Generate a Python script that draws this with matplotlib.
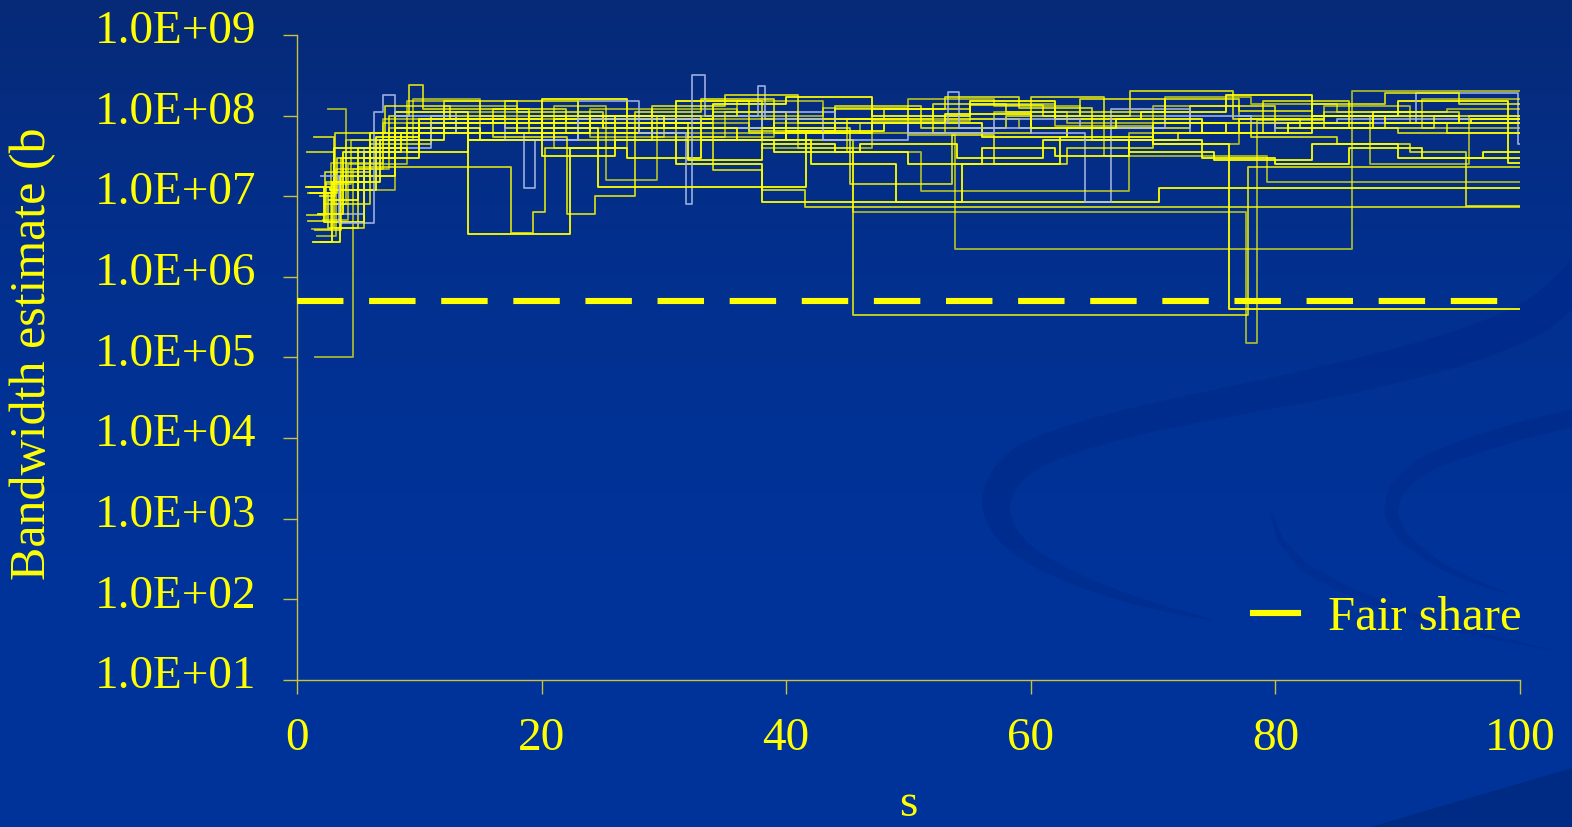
import numpy as np
import matplotlib
matplotlib.use('Agg')
import matplotlib.pyplot as plt
from matplotlib.colors import LinearSegmentedColormap
from matplotlib.ticker import FuncFormatter, NullLocator
from matplotlib.transforms import ScaledTranslation

plt.rcParams['font.family'] = ['Liberation Serif', 'DejaVu Serif']

# step series: change times (s) and the level held after each change (b/s)
f01_t = [1.5, 4.6, 7.5, 12, 18, 24, 29, 35, 41, 47, 55, 62, 70, 77, 84, 91]
f01_v = [1e5, 2.2e7, 7e7, 1.3e8, 6e7, 1.2e8, 5.5e7, 1.1e8, 4e7, 8.5e7, 1.4e8, 7.5e7, 4.5e7, 9e7, 1.3e8, 8e7]
f02_t = [0.8, 3.0, 5.0, 17.5, 19.3, 20.3, 26, 31, 38, 44, 52, 60, 66, 73, 80, 88, 95]
f02_v = [3.5e7, 4e6, 2.3e7, 3.5e6, 6.4e6, 4e7, 7e7, 1.5e8, 7e7, 1.2e8, 6e7, 1.7e8, 7e7, 1.3e8, 7e7, 1.1e8, 9e7]
f03_t = [1.0, 2.7, 6.5, 10, 14, 22.3, 27, 33, 39, 46, 54, 61, 68, 75, 83, 90]
f03_v = [1.3e7, 1.2e7, 5.5e7, 9e7, 3.4e6, 4e7, 3e7, 5e7, 3.5e7, 4.5e7, 3e7, 5e7, 3.5e7, 2.8e7, 4.5e7, 3e7]
f04_t = [2.5, 4, 8, 13, 19, 25, 31, 38, 45.5, 77.6, 78.5, 84, 92]
f04_v = [1.2e8, 1.2e7, 6e7, 1.1e8, 7e7, 9e7, 6e7, 4e7, 6.4e6, 1.5e5, 8.8e7, 1.1e8, 7e7]
f05_t = [1.4, 3, 6, 11, 16, 22, 28, 34, 40, 45.5, 77.8]
f05_v = [5.4e7, 8e6, 4.5e7, 8e7, 1.2e8, 6e7, 8e7, 1.1e8, 5e7, 3.4e5, 2.3e7]
f06_t = [0.7, 2.2, 5.5, 10, 15, 21, 27, 33, 40, 48, 56, 63, 70, 76.2]
f06_v = [1.3e7, 4.8e6, 3e7, 7e7, 5e7, 9e7, 7e7, 5e7, 6.5e7, 8e7, 5.5e7, 7e7, 4.5e7, 4e5]
f07_t = [1.6, 3.2, 7, 12, 18, 24, 30, 37, 44, 50, 53.8, 86.3]
f07_v = [3.2e6, 2.2e7, 8e7, 6e7, 9e7, 5.5e7, 8e7, 6e7, 9e7, 5.8e7, 2.2e6, 2e8]
f08_t = [0.9, 2.4, 6, 11, 17, 23, 29, 34, 38, 41.5]
f08_v = [4.9e6, 1.5e7, 6e7, 1e8, 7e7, 5e7, 8e7, 2.1e7, 1.2e7, 7.4e6]
f09_t = [2.0, 3.5, 8, 14, 20, 26, 31, 38, 70.5]
f09_v = [2.7e6, 1.8e7, 7e7, 5e7, 8e7, 6e7, 2.5e7, 8.5e6, 1.25e7]
f10_t = [1.2, 2.8, 7, 13, 19, 25, 32, 39, 46, 53, 59, 66, 79.3]
f10_v = [3.9e6, 2.6e7, 9e7, 6e7, 1e8, 7e7, 5.5e7, 8e7, 6e7, 9e7, 7e7, 3.2e7, 1.5e7]
f11_t = [0.8, 2.3, 6, 12, 18, 25, 31, 37, 44, 51, 58, 64, 71, 78, 85, 91, 95.6]
f11_v = [5.8e6, 2e7, 6e7, 1.5e8, 1.1e8, 7e7, 1.5e8, 6.5e7, 1.3e8, 7e7, 1e8, 1.6e8, 8e7, 5.5e7, 4.5e7, 3.5e7, 7.5e6]
f12_t = [1.1, 3, 8, 14, 20, 27, 34, 40, 47, 55, 62, 69, 76, 83, 90, 99]
f12_v = [1.1e7, 4e7, 1.1e8, 8e7, 1.6e8, 9e7, 1.4e8, 1.7e8, 1e8, 1.5e8, 9e7, 1.1e8, 1.8e8, 1e8, 1.5e8, 2.6e7]
f13_t = [2.2, 4, 9, 15, 22, 29, 36, 43, 50, 57, 63, 70, 77, 87.7, 95.8]
f13_v = [8e6, 5e7, 1.5e8, 1e8, 8e7, 1.2e8, 1e8, 1.25e8, 9e7, 1.1e8, 8e7, 1.3e8, 1e8, 2.5e7, 1e8]
f14_t = [1.8, 3.3, 7.5, 9.2, 10.3, 13, 19, 26, 33, 40, 48, 55, 61, 68.1, 76.5, 82, 89, 94]
f14_v = [1.1e7, 3e7, 1e8, 2.4e8, 1.2e8, 1.2e8, 8e7, 1e8, 7e7, 9e7, 1.2e8, 1.35e8, 1e8, 2e8, 9e7, 7e7, 8e7, 6e7]
f15_t = [2.0, 3.4, 6.3, 7.0, 8.0, 13, 18.6, 19.5, 23, 28, 33, 38, 44, 50, 57, 64, 71, 78, 85]
f15_v = [1.8e7, 4.6e6, 1.1e8, 1.8e8, 1e8, 6e7, 1.25e7, 5e7, 1.5e8, 9e7, 7e7, 1.1e8, 8e7, 6e7, 9e7, 7e7, 1e8, 8e7, 9e7]
f16_t = [3.0, 5.5, 11, 17, 23, 28, 31.8, 32.3, 33.4, 37.7, 38.3, 43, 50, 53.2, 54.1, 60, 64.4, 66.6, 73, 80, 91.5, 99.8]
f16_v = [6e6, 4e7, 8e7, 5e7, 9e7, 6e7, 8e6, 3.2e8, 1e8, 2.3e8, 9e7, 5e7, 8e7, 1.95e8, 7e7, 6e7, 8.5e6, 1.2e8, 6e7, 8e7, 1.9e8, 4.5e7]
f17_t = [1.5, 3.6, 8, 14, 20, 26, 32, 38, 45.2, 53.6, 57, 63, 70, 77, 84, 90]
f17_v = [3.8e6, 3e7, 7e7, 5e7, 1e8, 8e7, 5e7, 7e7, 1.4e7, 5.8e7, 2.5e7, 4e7, 6e7, 9e7, 7e7, 6e7]
f18_t = [1.3, 2.9, 6.8, 12, 18, 24, 30, 36, 42, 49, 54.4, 62.4, 70, 76, 83, 89, 96]
f18_v = [2.7e6, 1.5e7, 5e7, 8e7, 6e7, 1e8, 7e7, 5e7, 2.5e7, 8.5e6, 2.5e7, 5.5e7, 8e7, 6e7, 1e8, 8e7, 9e7]
f19_t = [2.1, 4.2, 9, 15, 21, 27, 33, 39, 45, 51, 68, 74, 81, 88, 94]
f19_v = [5e6, 2.5e7, 8e7, 6e7, 4e7, 7e7, 9e7, 6e7, 3.5e7, 1.15e7, 6e7, 8e7, 7e7, 1.1e8, 1.2e8]
f20_t = [0.9, 2.5, 5.5, 10, 16, 22.1, 24.4, 27.6, 33, 39, 45, 52, 58, 65, 72, 79, 86, 93]
f20_v = [1.1e7, 4e6, 3.5e7, 9e7, 5.5e7, 6e6, 1e7, 1.1e8, 1.6e8, 6e7, 9e7, 1.4e8, 1.1e8, 5e7, 6e7, 1.5e8, 7e7, 1e8]
f21_t = [1.7, 3.8, 8.5, 14, 20, 24.6, 41.6, 47, 53, 60, 67, 74, 81, 88, 95]
f21_v = [6e6, 3.5e7, 6e7, 9e7, 7e7, 1.3e7, 6e7, 8e7, 1.05e8, 7e7, 9e7, 6e7, 8e7, 1e8, 8e7]
f22_t = [2.4, 4.4, 9.5, 15, 21, 25.3, 29.4, 36, 43, 50, 57, 64, 71, 78, 85, 92]
f22_v = [1.4e7, 5e7, 1.6e8, 8e7, 1.3e8, 1.6e7, 1e8, 1.5e8, 9e7, 1.6e8, 1.3e8, 1e8, 1.7e8, 1.4e8, 1.1e8, 1.6e8]
f23_t = [1.9, 3.1, 7.2, 12.5, 17, 23, 29, 35, 41, 47, 53, 59, 65, 71, 77, 83, 89, 95]
f23_v = [1e7, 6e7, 1.3e8, 9e7, 1.5e8, 1e8, 1.3e8, 1.8e8, 8e7, 1.2e8, 1.7e8, 1.25e8, 1.1e8, 1.6e8, 1.15e8, 1.4e8, 1.9e8, 1.4e8]
f24_t = [2.6, 5, 9, 14, 20, 26, 32, 38, 44, 50, 56, 62, 68, 74, 80, 86, 92, 97]
f24_v = [9e6, 4e7, 3.5e7, 6e7, 3.2e7, 5e7, 2.8e7, 4.5e7, 3.5e7, 2.5e7, 4e7, 3.2e7, 5e7, 3e7, 2.5e7, 4e7, 3e7, 3.5e7]

light_flows = [15, 16]   # flows drawn in pale blue
end_time = 100
fair_share = 5e5

y_ticks = [1e1, 1e2, 1e3, 1e4, 1e5, 1e6, 1e7, 1e8, 1e9]
x_ticks = [0, 20, 40, 60, 80, 100]

flows = [
    (f01_t, f01_v), (f02_t, f02_v), (f03_t, f03_v), (f04_t, f04_v),
    (f05_t, f05_v), (f06_t, f06_v), (f07_t, f07_v), (f08_t, f08_v),
    (f09_t, f09_v), (f10_t, f10_v), (f11_t, f11_v), (f12_t, f12_v),
    (f13_t, f13_v), (f14_t, f14_v), (f15_t, f15_v), (f16_t, f16_v),
    (f17_t, f17_v), (f18_t, f18_v), (f19_t, f19_v), (f20_t, f20_v),
    (f21_t, f21_v), (f22_t, f22_v), (f23_t, f23_v), (f24_t, f24_v),
]

YEL = '#ffff00'
AXC = '#c8c23c'
SWOOSH = '#00298a'


def band(ax, pts, color, alpha, smooth=25):
    # filled stroke of varying width along a polyline given in pixels
    p = np.array(pts, dtype=float)
    s = np.linspace(0, len(p) - 1, 400)
    idx = np.arange(len(p))
    x = np.interp(s, idx, p[:, 0])
    y = np.interp(s, idx, p[:, 1])
    w = np.interp(s, idx, p[:, 2])
    k = np.ones(smooth) / smooth
    h = smooth // 2
    x = np.convolve(np.pad(x, h, mode='edge'), k, mode='valid')
    y = np.convolve(np.pad(y, h, mode='edge'), k, mode='valid')
    dx, dy = np.gradient(x), np.gradient(y)
    n = np.hypot(dx, dy)
    nx, ny = -dy / n, dx / n
    ax.fill(np.r_[x + nx * w / 2, (x - nx * w / 2)[::-1]],
            np.r_[y + ny * w / 2, (y - ny * w / 2)[::-1]],
            color=color, alpha=alpha, lw=0)


fig = plt.figure(figsize=(15.72, 8.27), dpi=100)

# slide background: dark navy at the top fading into royal blue
bg = fig.add_axes([0, 0, 1, 1], zorder=-10)
cmap = LinearSegmentedColormap.from_list('slide', ['#072a78', '#02308f', '#003399', '#003399'])
grad = np.linspace(0, 1, 256).reshape(-1, 1)
bg.imshow(grad, aspect='auto', cmap=cmap, extent=[0, 1572, 827, 0])
band(bg, [(1600, 255, 34), (1540, 318, 36), (1450, 352, 35), (1347, 378, 33),
          (1248, 398, 30), (1148, 418, 28), (1080, 436, 28), (1029, 455, 30),
          (1003, 478, 30), (994, 505, 28), (1004, 532, 22), (1029, 556, 16),
          (1080, 582, 12), (1148, 605, 7), (1220, 622, 1)], SWOOSH, 0.6)
band(bg, [(1600, 412, 18), (1530, 428, 18), (1470, 446, 18), (1420, 466, 16),
          (1395, 490, 15), (1390, 515, 13), (1405, 540, 10), (1440, 566, 7),
          (1480, 584, 4), (1510, 594, 1)], SWOOSH, 0.5, smooth=31)
band(bg, [(1271, 512, 2), (1280, 540, 6), (1305, 568, 9), (1350, 592, 9),
          (1400, 612, 8), (1450, 628, 6), (1560, 652, 1)], SWOOSH, 0.45, smooth=31)
bg.fill([1370, 1572, 1572], [827, 768, 827], color='#00297f', alpha=0.75, lw=0)
bg.set_xlim(0, 1572)
bg.set_ylim(827, 0)
bg.axis('off')

ax = fig.add_axes([0.1889, 0.1778, 0.7780, 0.7799])
ax.set_facecolor('none')

for i, (t, v) in enumerate(flows, start=1):
    x = list(t) + [end_time]
    y = list(v) + [v[-1]]
    if i in light_flows:
        col, a = '#a9b9e6', 0.85
    else:
        col, a = YEL, [1.0, 0.65, 0.8][i % 3]
    ax.step(x, y, where='post', color=col, lw=1.3, alpha=a, zorder=2)

ax.axhline(fair_share, color=YEL, lw=4.4, dashes=(7.6, 4.2), zorder=3,
           label='Fair share')

ax.set_yscale('log')
ax.set_xlim(0, 100)
ax.set_ylim(1e1, 1e9)
ax.set_yticks(y_ticks)
ax.yaxis.set_minor_locator(NullLocator())
ax.yaxis.set_major_formatter(FuncFormatter(lambda v, _: f'{v:.1E}'))
ax.set_xticks(x_ticks)

for side in ['top', 'right']:
    ax.spines[side].set_visible(False)
for side in ['left', 'bottom']:
    ax.spines[side].set_color(AXC)
    ax.spines[side].set_linewidth(1.0)

ax.tick_params(axis='y', direction='out', length=10, width=1, color=AXC,
               labelcolor=YEL, labelsize=34, pad=19)
ax.tick_params(axis='x', direction='out', length=10, width=1, color=AXC,
               labelcolor=YEL, labelsize=34, pad=17)
shift = ScaledTranslation(0, 8 / 100, fig.dpi_scale_trans)
for lab in ax.get_yticklabels():
    lab.set_transform(lab.get_transform() + shift)

ax.set_xlabel('s', color=YEL, fontsize=34, labelpad=17)
fig.text(33 / 1572, 1 - 580 / 827, 'Bandwidth estimate (b', rotation=90,
         color=YEL, fontsize=36, ha='center', va='bottom')

leg = ax.legend(loc='center right', frameon=False, fontsize=35,
                handlelength=0.93, handletextpad=0.62, borderaxespad=0,
                borderpad=0, labelcolor=YEL,
                bbox_to_anchor=(1522 / 1572, 1 - 618 / 827),
                bbox_transform=fig.transFigure)
for h in leg.get_lines():
    h.set_linestyle('-')

fig.savefig('out.png', dpi=100)
